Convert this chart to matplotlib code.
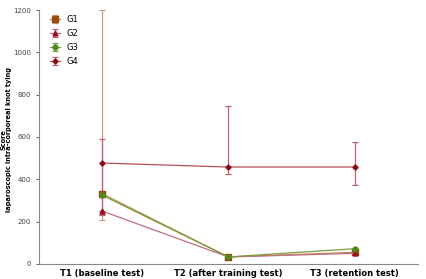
import numpy as np
import matplotlib.pyplot as plt

tests = ["T1 (baseline test)", "T2 (after training test)", "T3 (retention test)"]
groups = ["G1", "G2", "G3", "G4"]
means = {
    "G1": [332, 33, 55],
    "G2": [250, 33, 50],
    "G3": [325, 33, 72],
    "G4": [477, 458, 458],
}
# lower / upper error amounts
err_lo = {
    "G1": [122, 0, 0],
    "G2": [15, 0, 0],
    "G3": [0, 0, 0],
    "G4": [245, 33, 85],
}
err_hi = {
    "G1": [868, 0, 0],
    "G2": [0, 0, 0],
    "G3": [0, 0, 0],
    "G4": [113, 290, 120],
}
markers = {"G1": "s", "G2": "^", "G3": "o", "G4": "D"}
mcolors = {"G1": "#9C4A10", "G2": "#9B1020", "G3": "#4E8A1E", "G4": "#8B0A1A"}
lcolors = {"G1": "#C08A5A", "G2": "#C0707C", "G3": "#7A9A3A", "G4": "#B8505A"}
ecolors = {"G1": "#C89A78", "G2": "#B86070", "G3": "#80A050", "G4": "#C06070"}
msizes = {"G1": 3.8, "G2": 3.5, "G3": 3.5, "G4": 2.6}

fig = plt.figure(figsize=(4.26, 2.79), dpi=100)
ax = fig.add_axes([0.0915, 0.054, 0.889, 0.91])
x = np.arange(len(tests))
for g in groups:
    ax.errorbar(x, means[g], yerr=[err_lo[g], err_hi[g]], color=lcolors[g],
                ecolor=ecolors[g], elinewidth=0.9, capsize=2.2, capthick=0.9,
                lw=0.9, marker=markers[g], ms=msizes[g], mfc=mcolors[g],
                mec=mcolors[g], label=g)

ax.set_xlim(-0.5, 2.5)
ax.set_ylim(0, 1200)
ax.set_yticks([0, 200, 400, 600, 800, 1000, 1200])
ax.set_xticks(x)
ax.set_xticklabels(tests, fontsize=6, fontweight="bold")
ax.tick_params(axis="y", labelsize=5, colors="#444444", length=2, width=0.6)
ax.tick_params(axis="x", length=0, pad=4)
for s in ["top", "right"]:
    ax.spines[s].set_visible(False)
for s in ["left", "bottom"]:
    ax.spines[s].set_color("#888888")
    ax.spines[s].set_linewidth(0.8)
ax.set_ylabel("Score\nlaparoscopic intra-corporeal knot tying", fontsize=4.8,
              fontweight="bold", linespacing=1.0)
ax.yaxis.set_label_coords(-0.07, 0.49)
ax.legend(loc="upper left", frameon=False, fontsize=6, handlelength=1.2,
          bbox_to_anchor=(0.01, 1.01), labelspacing=0.6)

fig.savefig("out.png", dpi=100)
